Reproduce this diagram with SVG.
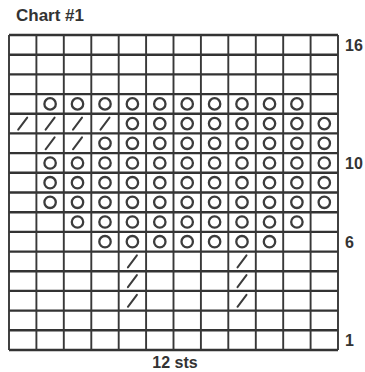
<svg xmlns="http://www.w3.org/2000/svg" xmlns:xlink="http://www.w3.org/1999/xlink" width="365" height="372" viewBox="0 0 365 372">
<style>
.t{font-family:"Liberation Sans",Arial,sans-serif;font-weight:bold;fill:#333}
.h{stroke:#333;stroke-width:2.4;fill:none}
.v{stroke:#383838;stroke-width:1.9;fill:none}
.o{fill:none;stroke:#3c3c3c;stroke-width:2.3}
.s{stroke:#3c3c3c;stroke-width:2;stroke-linecap:round}
</style>
<defs>
<circle id="o" class="o" cx="0" cy="0" r="5.7"/>
<line id="s" class="s" x1="-4.5" y1="6" x2="4.5" y2="-6"/>
</defs>
<rect width="365" height="372" fill="#fff"/>
<text class="t" x="16" y="21" font-size="17">Chart #1</text>
<g id="grid">
<path class="h" d="M9 35H338M9 54.7H338M9 74.4H338M9 94.1H338M9 113.8H338M9 133.4H338M9 153.1H338M9 172.8H338M9 192.5H338M9 212.2H338M9 231.9H338M9 251.6H338M9 271.3H338M9 290.9H338M9 310.6H338M9 330.3H338M9 350H338"/>
<path class="v" d="M9 35V350M36.4 35V350M63.8 35V350M91.3 35V350M118.7 35V350M146.1 35V350M173.5 35V350M200.9 35V350M228.3 35V350M255.8 35V350M283.2 35V350M310.6 35V350M338 35V350"/>
</g>
<g id="row13" transform="translate(0,103.9)">
<use href="#o" x="50.1"/><use href="#o" x="77.5"/><use href="#o" x="105"/><use href="#o" x="132.4"/><use href="#o" x="159.8"/><use href="#o" x="187.2"/><use href="#o" x="214.6"/><use href="#o" x="242"/><use href="#o" x="269.5"/><use href="#o" x="296.9"/>
</g>
<g id="row12" transform="translate(0,123.6)">
<use href="#s" x="22.7"/><use href="#s" x="50.1"/><use href="#s" x="77.5"/><use href="#s" x="105"/>
<use href="#o" x="132.4"/><use href="#o" x="159.8"/><use href="#o" x="187.2"/><use href="#o" x="214.6"/><use href="#o" x="242"/><use href="#o" x="269.5"/><use href="#o" x="296.9"/><use href="#o" x="324.3"/>
</g>
<g id="row11" transform="translate(0,143.3)">
<use href="#s" x="50.1"/><use href="#s" x="77.5"/>
<use href="#o" x="105"/><use href="#o" x="132.4"/><use href="#o" x="159.8"/><use href="#o" x="187.2"/><use href="#o" x="214.6"/><use href="#o" x="242"/><use href="#o" x="269.5"/><use href="#o" x="296.9"/><use href="#o" x="324.3"/>
</g>
<g id="row10" transform="translate(0,163)">
<use href="#o" x="50.1"/><use href="#o" x="77.5"/><use href="#o" x="105"/><use href="#o" x="132.4"/><use href="#o" x="159.8"/><use href="#o" x="187.2"/><use href="#o" x="214.6"/><use href="#o" x="242"/><use href="#o" x="269.5"/><use href="#o" x="296.9"/><use href="#o" x="324.3"/>
</g>
<g id="row9" transform="translate(0,182.7)">
<use href="#o" x="50.1"/><use href="#o" x="77.5"/><use href="#o" x="105"/><use href="#o" x="132.4"/><use href="#o" x="159.8"/><use href="#o" x="187.2"/><use href="#o" x="214.6"/><use href="#o" x="242"/><use href="#o" x="269.5"/><use href="#o" x="296.9"/><use href="#o" x="324.3"/>
</g>
<g id="row8" transform="translate(0,202.3)">
<use href="#o" x="50.1"/><use href="#o" x="77.5"/><use href="#o" x="105"/><use href="#o" x="132.4"/><use href="#o" x="159.8"/><use href="#o" x="187.2"/><use href="#o" x="214.6"/><use href="#o" x="242"/><use href="#o" x="269.5"/><use href="#o" x="296.9"/><use href="#o" x="324.3"/>
</g>
<g id="row7" transform="translate(0,222)">
<use href="#o" x="77.5"/><use href="#o" x="105"/><use href="#o" x="132.4"/><use href="#o" x="159.8"/><use href="#o" x="187.2"/><use href="#o" x="214.6"/><use href="#o" x="242"/><use href="#o" x="269.5"/><use href="#o" x="296.9"/>
</g>
<g id="row6" transform="translate(0,241.7)">
<use href="#o" x="105"/><use href="#o" x="132.4"/><use href="#o" x="159.8"/><use href="#o" x="187.2"/><use href="#o" x="214.6"/><use href="#o" x="242"/><use href="#o" x="269.5"/>
</g>
<g id="row5" transform="translate(0,261.4)"><use href="#s" x="132.4"/><use href="#s" x="242"/></g>
<g id="row4" transform="translate(0,281.1)"><use href="#s" x="132.4"/><use href="#s" x="242"/></g>
<g id="row3" transform="translate(0,300.8)"><use href="#s" x="132.4"/><use href="#s" x="242"/></g>
<g id="labels">
<text class="t" x="345" y="50.8" font-size="16">16</text>
<text class="t" x="345" y="168.8" font-size="16">10</text>
<text class="t" x="345" y="247.5" font-size="16">6</text>
<text class="t" x="345" y="346" font-size="16">1</text>
<text class="t" x="175" y="368" font-size="16" text-anchor="middle">12 sts</text>
</g>
</svg>
